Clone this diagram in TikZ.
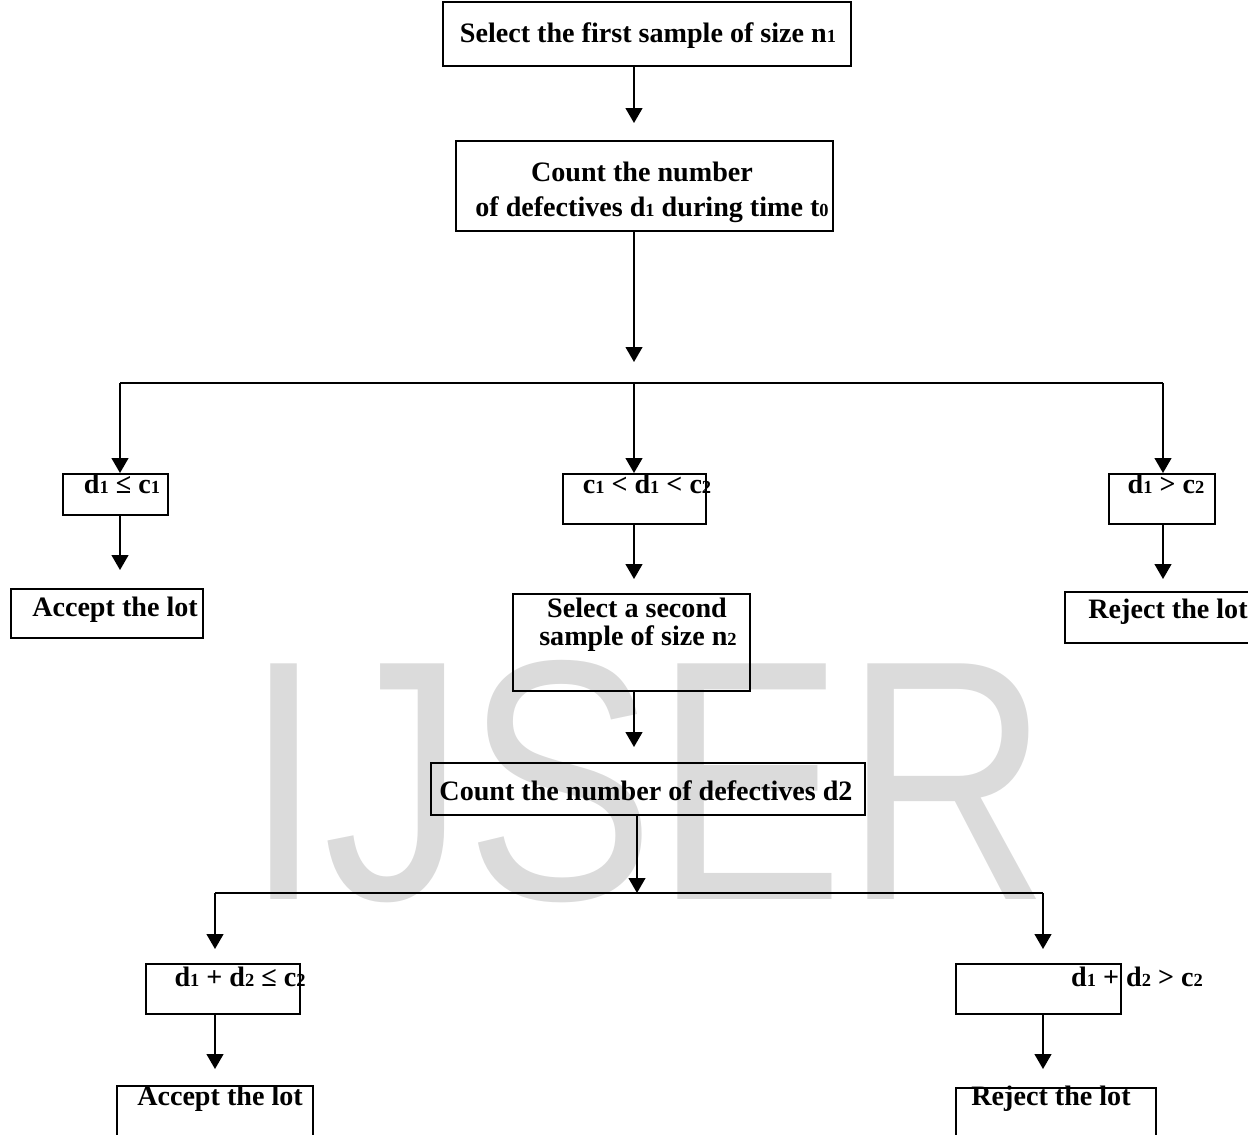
\documentclass[tikz,border=0pt]{standalone}
\usepackage{fontspec}
\setmainfont{Liberation Serif}
\newfontfamily\wmfont{Liberation Sans}
\usetikzlibrary{arrows.meta}
\newcommand{\sm}[1]{{\fontsize{10.5}{10.5}\selectfont #1}}
\tikzset{
  box/.style={draw,line width=1.1pt,inner sep=0pt},
  txt/.style={font=\fontsize{16}{19}\selectfont\bfseries,anchor=base,inner sep=0pt},
  arr/.style={line width=1.1pt,-{Triangle[length=8.5pt,width=9.5pt]}},
  ln/.style={line width=1.1pt},
  wm/.style={font=\wmfont\fontsize{195}{195}\selectfont,text=black!14,xscale=0.83,inner sep=0pt}
}
\begin{document}
\begin{tikzpicture}[x=0.02cm,y=-0.02cm]
\useasboundingbox (0,0) rectangle (1248,1135);
\node [wm] (mark) at (647,782) {IJSER};
\node [box,minimum width=8.16cm,minimum height=1.28cm] (first) at (647,34) {};
\node [box,minimum width=7.54cm,minimum height=1.8cm] (count1) at (644.5,186) {};
\node [box,minimum width=2.1cm,minimum height=0.82cm] (le) at (115.5,494.5) {};
\node [box,minimum width=2.86cm,minimum height=1cm] (mid) at (634.5,499) {};
\node [box,minimum width=2.12cm,minimum height=1cm] (gt) at (1162,499) {};
\node [box,minimum width=3.84cm,minimum height=0.98cm] (acc1) at (107,613.5) {};
\node [box,minimum width=4.74cm,minimum height=1.94cm] (sel2) at (631.5,642.5) {};
\node [box,minimum width=3.94cm,minimum height=1.02cm] (rej1) at (1163.5,617.5) {};
\node [box,minimum width=8.68cm,minimum height=1.04cm] (count2) at (648,789) {};
\node [box,minimum width=3.08cm,minimum height=1cm] (sumle) at (223,989) {};
\node [box,minimum width=3.3cm,minimum height=1cm] (sumgt) at (1038.5,989) {};
\node [box,minimum width=3.92cm,minimum height=1.28cm] (acc2) at (215,1118) {};
\node [box,minimum width=4cm,minimum height=1.24cm] (rej2) at (1056,1119) {};
\node [txt] (first-t) at (648,43) {Select the first sample of size n\sm{1}};
\node [txt] (count1-a) at (642,182) {Count the number};
\node [txt] (count1-b) at (652,217) {of defectives d\sm{1} during time t\sm{0}};
\node [txt] (le-t) at (122,493) {d\sm{1} ≤ c\sm{1}};
\node [txt] (mid-t) at (647,493) {c\sm{1} < d\sm{1} < c\sm{2}};
\node [txt] (gt-t) at (1166,493) {d\sm{1} > c\sm{2}};
\node [txt] (acc1-t) at (115,616) {Accept the lot};
\node [txt] (sel2-a) at (637,617) {Select a second};
\node [txt] (sel2-b) at (638,645) {sample of size n\sm{2}};
\node [txt] (rej1-t) at (1168,618) {Reject the lot};
\node [txt] (count2-t) at (646,800) {Count the number of defectives d2};
\node [txt] (sumle-t) at (240,986) {d\sm{1} + d\sm{2} ≤ c\sm{2}};
\node [txt] (sumgt-t) at (1137,986) {d\sm{1} + d\sm{2} > c\sm{2}};
\node [txt] (acc2-t) at (220,1105) {Accept the lot};
\node [txt] (rej2-t) at (1051,1105) {Reject the lot};
\coordinate (sp) at (634,0);
\coordinate (split1) at (634,383);
\coordinate (lft1) at (120,383);
\coordinate (rgt1) at (1163,383);
\coordinate (split2) at (637,893);
\coordinate (lft2) at (215,893);
\coordinate (rgt2) at (1043,893);
\draw [arr,shorten >=0.34cm] (first.south -| sp) -- (count1.north -| sp);
\draw [arr,shorten >=0.42cm] (count1.south -| sp) -- (split1);
\draw [ln] (lft1) -- (rgt1);
\draw [arr] (lft1) -- (lft1 |- le.north);
\draw [arr] (split1) -- (split1 |- mid.north);
\draw [arr] (rgt1) -- (rgt1 |- gt.north);
\draw [arr,shorten >=0.36cm] (le.south -| lft1) -- (acc1.north -| lft1);
\draw [arr,shorten >=0.28cm] (mid.south -| sp) -- (sel2.north -| sp);
\draw [arr,shorten >=0.24cm] (gt.south -| rgt1) -- (rej1.north -| rgt1);
\draw [arr,shorten >=0.3cm] (sel2.south -| sp) -- (count2.north -| sp);
\draw [arr] (count2.south -| split2) -- (split2);
\draw [ln] (lft2) -- (rgt2);
\draw [arr,shorten >=0.28cm] (lft2) -- (lft2 |- sumle.north);
\draw [arr,shorten >=0.28cm] (rgt2) -- (rgt2 |- sumgt.north);
\draw [arr,shorten >=0.32cm] (sumle.south -| lft2) -- (acc2.north -| lft2);
\draw [arr,shorten >=0.36cm] (sumgt.south -| rgt2) -- (rej2.north -| rgt2);
\end{tikzpicture}
\end{document}
